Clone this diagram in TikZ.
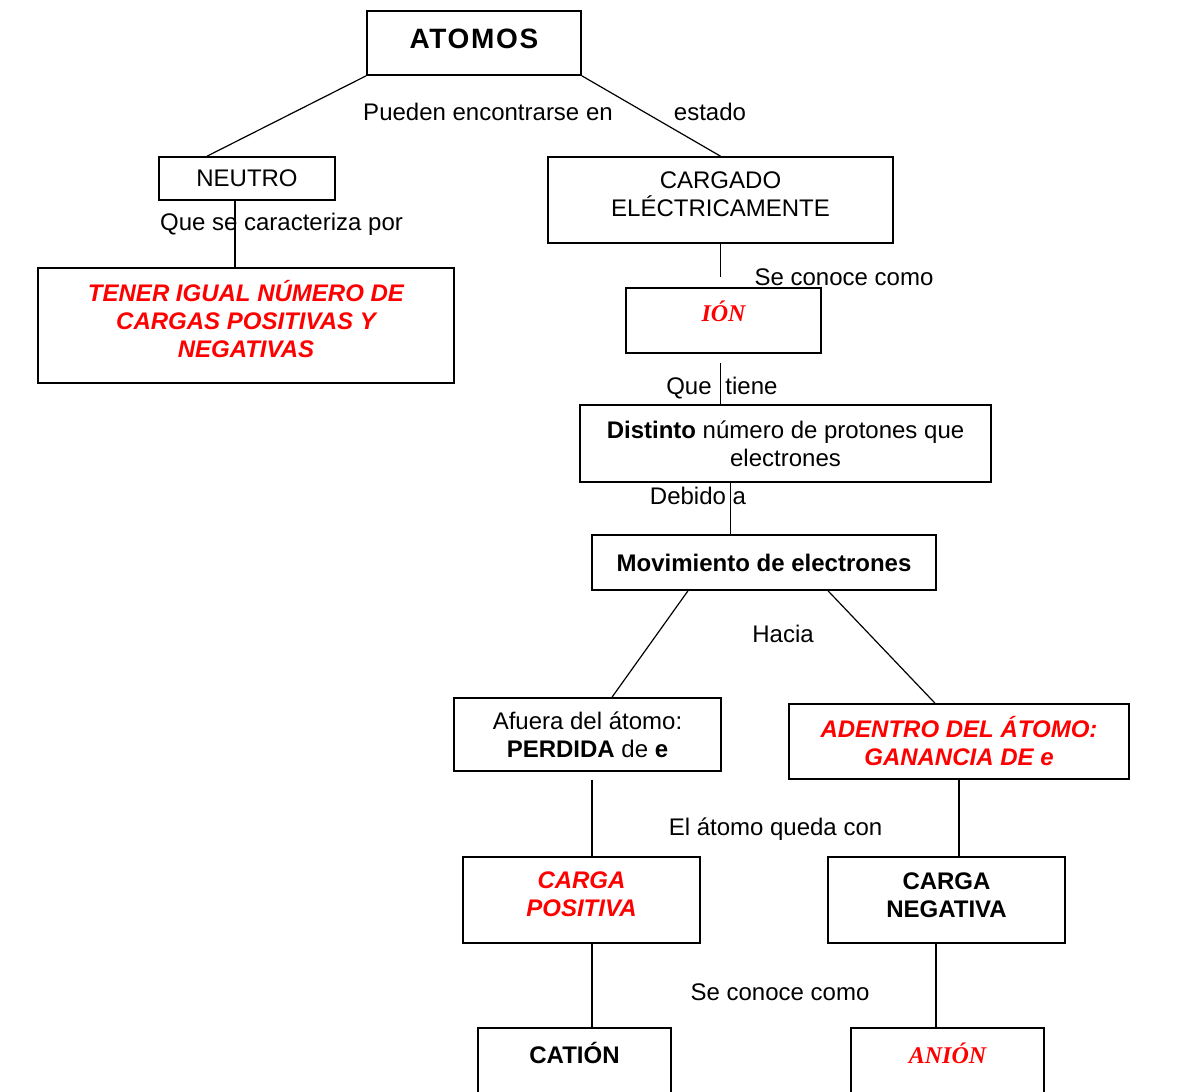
\documentclass[tikz,border=0pt]{standalone}
\usepackage{fontspec}
\setmainfont{Liberation Sans}
\newfontfamily\serifa{Liberation Serif}
\usetikzlibrary{calc}

\tikzset{
  caja/.style={draw, line width=0.8pt, inner sep=0pt, align=center, font=\fontsize{12}{14}\selectfont},
  rojo/.style={text=red, font=\fontsize{12}{14}\selectfont\bfseries\itshape},
  rojoserif/.style={text=red, font=\fontsize{12}{14}\selectfont\serifa\bfseries\itshape},
  negrita/.style={font=\fontsize{12}{14}\selectfont\bfseries},
  enlace/.style={line width=0.6pt},
  etiqueta/.style={inner sep=0pt, font=\fontsize{12}{14}\selectfont, text height=9pt, text depth=0pt}
}

\begin{document}
\begin{tikzpicture}[x=0.5pt, y=-0.5pt]
	% Fix the page size
	\useasboundingbox (0,0) rectangle (1184,1092);
	\clip (0,0) rectangle (1184,1092);

	% Draw the boxes
	\node[caja, minimum width=107pt, minimum height=32pt, font=\fontsize{14}{16}\selectfont\bfseries\addfontfeatures{LetterSpace=6}, text height=10pt, text depth=5pt] (atomos) at (474,43) {ATOMOS};
	\node[caja, minimum width=88pt, minimum height=21.5pt] (neutro) at (247,178.5) {NEUTRO};
	\node[caja, rojo, minimum width=208pt, minimum height=57.5pt, text depth=7pt] (tener) at (246,325.5) {TENER IGUAL NÚMERO DE\\CARGAS POSITIVAS Y\\NEGATIVAS};
	\node[caja, minimum width=172.5pt, minimum height=43pt, text depth=6pt] (cargado) at (720.5,200) {CARGADO\\ELÉCTRICAMENTE};
	\node[caja, rojoserif, minimum width=97.5pt, minimum height=32.5pt, text height=8pt, text depth=7.4pt] (ion) at (723.5,320.5) {IÓN};
	\node[caja, minimum width=205.5pt, minimum height=38.5pt] (distinto) at (785.5,443.5) {\textbf{Distinto} número de protones que\\electrones};
	\node[caja, negrita, minimum width=172pt, minimum height=27.5pt] (mov) at (764,562.5) {Movimiento de electrones};
	\node[caja, minimum width=133.5pt, minimum height=36.5pt] (afuera) at (587.5,734.5) {Afuera del átomo:\\\textbf{PERDIDA} de \textbf{e}};
	\node[caja, rojo, minimum width=170pt, minimum height=37.5pt] (adentro) at (959,741.5) {ADENTRO DEL ÁTOMO:\\GANANCIA DE e};
	\node[caja, rojo, minimum width=118.5pt, minimum height=43pt, text depth=6pt] (cpos) at (581.5,900) {CARGA\\POSITIVA};
	\node[caja, negrita, minimum width=118.5pt, minimum height=43pt, text depth=5pt] (cneg) at (946.5,900) {CARGA\\NEGATIVA};
	\node[caja, negrita, minimum width=96.5pt, minimum height=51pt, text height=9pt, text depth=24.4pt] (cation) at (574.5,1079) {CATIÓN};
	\node[caja, rojoserif, minimum width=96.5pt, minimum height=51pt, text height=9pt, text depth=24.4pt] (anion) at (947.5,1079) {ANIÓN};

	% Draw the links
	\draw[enlace] (atomos.south west) -- ($(neutro.north)+(-40,0)$);
	\draw[enlace] (atomos.south east) -- (cargado.north);
	\coordinate (n1) at ($(neutro.south)+(-12,0)$);
	\draw[enlace] (n1) -- (n1 |- tener.north);
	\draw[enlace, shorten >=5pt] (cargado.south) -- (cargado.south |- ion.north);
	\draw[enlace, shorten <=4.5pt] (cargado.south |- ion.south) -- (cargado.south |- distinto.north);
	\coordinate (d1) at ($(distinto.south)+(-55,0)$);
	\draw[enlace] (d1) -- (d1 |- mov.north);
	\draw[enlace] ($(mov.south)+(-76,0)$) -- ($(afuera.north)+(24.5,0)$);
	\draw[enlace] ($(mov.south)+(64,0)$) -- ($(adentro.north)+(-24,0)$);
	\coordinate (p1) at ($(cpos.north)+(10.5,0)$);
	\draw[enlace, shorten <=4pt] (p1 |- afuera.south) -- (p1);
	\draw[enlace] (adentro.south) -- (adentro.south |- cneg.north);
	\draw[enlace] (p1 |- cpos.south) -- (p1 |- cation.north);
	\coordinate (q1) at ($(cneg.south)+(-10.5,0)$);
	\draw[enlace] (q1) -- (q1 |- anion.north);

	% Label the links
	\node[etiqueta] (pueden) at (488,111) {Pueden encontrarse en};
	\node[etiqueta] (estado) at (710,111) {estado};
	\node[etiqueta] (caract) at (281.5,221) {Que se caracteriza por};
	\node[etiqueta] (conoce1) at (844,276) {Se conoce como};
	\node[etiqueta] (que) at (689,385) {Que};
	\node[etiqueta] (tiene) at (751.5,385) {tiene};
	\node[etiqueta] (debido) at (698,495) {Debido a};
	\node[etiqueta] (hacia) at (783,633) {Hacia};
	\node[etiqueta] (queda) at (775.5,826) {El átomo queda con};
	\node[etiqueta] (conoce2) at (780,991) {Se conoce como};
\end{tikzpicture}
\end{document}
